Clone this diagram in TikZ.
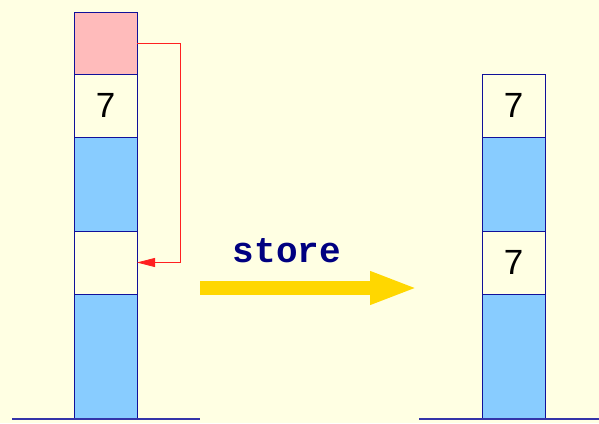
\documentclass[tikz,border=0pt]{standalone}
\usepackage{fontspec}
\setmainfont{Liberation Sans}
\setmonofont{Liberation Mono}
\usepackage{xcolor}
\usetikzlibrary{arrows.meta,positioning}
\definecolor{stackpaper}{HTML}{FFFFE3}
\definecolor{stacknavy}{HTML}{10109A}
\definecolor{stackblue}{HTML}{88CCFF}
\definecolor{stackpink}{HTML}{FFBBBB}
\definecolor{stackred}{HTML}{FF2020}
\definecolor{stackgold}{HTML}{FFD700}
\definecolor{stackink}{HTML}{000080}

\begin{document}
\begin{tikzpicture}[
  x=1pt,y=-1pt,
  cell/.style={draw=stacknavy,line width=1pt,minimum width=63pt,inner sep=0pt,outer sep=0pt,font=\fontsize{35}{35}\selectfont},
  full/.style={cell,fill=stackblue},
  ground/.style={draw=stacknavy!85,line width=1.5pt},
  link/.style={-{Triangle[length=18pt,width=9pt]},draw=stackred,line width=0.8pt},
  bigarrow/.style={-{Triangle[length=48pt,width=30pt]},draw=stackgold,line width=14pt},
  op/.style={font=\ttfamily\bfseries\fontsize{36}{36}\selectfont,text=stackink}
]
\fill[stackpaper] (0,0) rectangle (599,423);
\useasboundingbox (0,0) rectangle (599,423);
% before
\node[cell,fill=stackpink,minimum height=62pt,anchor=north west] (lslot) at (74,12) {};
\node[cell,minimum height=63pt,below=0pt of lslot] (lseven) {7};
\node[full,minimum height=94pt,below=0pt of lseven] (lmid) {};
\node[cell,minimum height=63pt,below=0pt of lmid] (lfree) {};
\node[full,minimum height=125pt,below=0pt of lfree] (lbase) {};
\draw[ground] (12,419) -- (200,419);
\draw[link] (lslot.east) -- ++(43,0) |- (lfree.east);
% after
\node[cell,minimum height=63pt,anchor=north west] (rtop) at (482,74) {7};
\node[full,minimum height=94pt,below=0pt of rtop] (rmid) {};
\node[cell,minimum height=63pt,below=0pt of rmid] (rseven) {7};
\node[full,minimum height=125pt,below=0pt of rseven] (rbase) {};
\draw[ground] (419,419) -- (599,419);
% operation
\coordinate (from) at (200,288);
\coordinate (to) at (418,288);
\draw[bigarrow] (from) -- (to);
\node[op] (store) at (287,251) {store};
\end{tikzpicture}
\end{document}
